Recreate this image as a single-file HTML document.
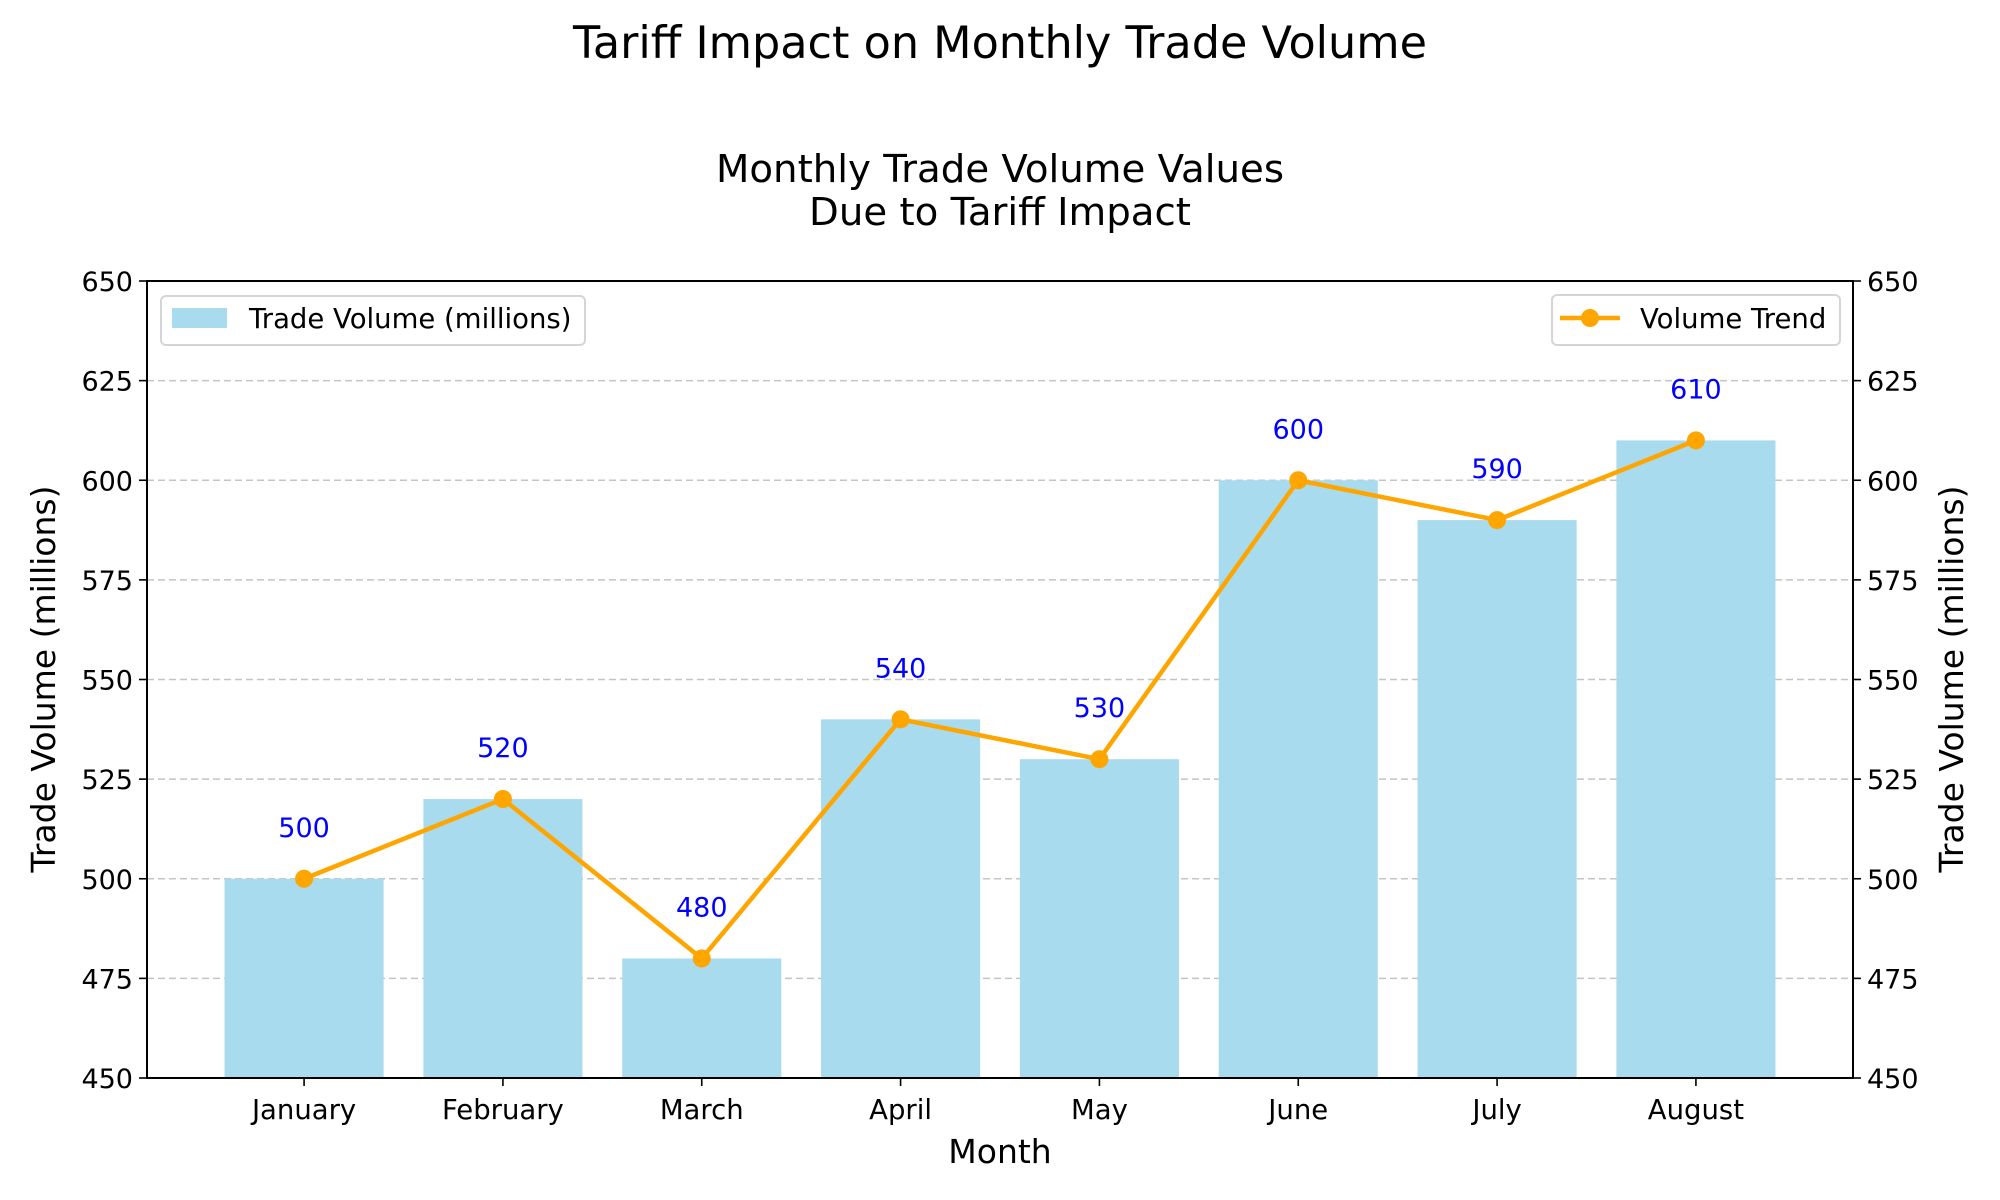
<!DOCTYPE html>
<html><head><meta charset="utf-8"><style>
html,body{margin:0;padding:0;background:#fff;}
svg{display:block;font-family:"DejaVu Sans","Liberation Sans",sans-serif;}
</style></head><body>
<svg id="chart" width="2000" height="1200" viewBox="0 0 2000 1200" xmlns="http://www.w3.org/2000/svg">
<text x="1000" y="58" font-size="44.5" text-anchor="middle">Tariff Impact on Monthly Trade Volume</text>
<text x="1000" y="182" font-size="38.7" text-anchor="middle">Monthly Trade Volume Values</text>
<text x="1000" y="225" font-size="38.7" text-anchor="middle">Due to Tariff Impact</text>
<g id="grid"></g>
<g id="bars"></g>
<g id="line"></g>
<g id="labels"></g>
<g id="axes"></g>
<text x="0" y="0" font-size="33" text-anchor="middle" transform="translate(55,679) rotate(-90)">Trade Volume (millions)</text>
<text x="0" y="0" font-size="33" text-anchor="middle" transform="translate(1963,679) rotate(-90)">Trade Volume (millions)</text>
<text x="1000" y="1163" font-size="33" text-anchor="middle">Month</text>
<g>
<rect x="161" y="296" width="424" height="49" rx="5" fill="#fff" fill-opacity="0.8" stroke="#d5d5d5" stroke-width="2"/>
<rect x="172" y="308" width="55" height="20" fill="#a8dbee"/>
<text x="249" y="328" font-size="27.5">Trade Volume (millions)</text>
</g>
<g>
<rect x="1552" y="295" width="288" height="50" rx="5" fill="#fff" fill-opacity="0.8" stroke="#d5d5d5" stroke-width="2"/>
<line x1="1560" y1="318" x2="1620" y2="318" stroke="#FFA500" stroke-width="4.5"/>
<circle cx="1590" cy="318" r="9" fill="#FFA500"/>
<text x="1640" y="328" font-size="27.5">Volume Trend</text>
</g>
</svg>
<script>
const months = ["January","February","March","April","May","June","July","August"];
const volumes = [500,520,480,540,530,600,590,610];
const yTicks = [450,475,500,525,550,575,600,625,650];
const NS="http://www.w3.org/2000/svg";
const L=147,R=1853,T=281,B=1078;
const yMin=450,yMax=650,xMin=-0.79,xMax=7.79;
function xs(i){return L+(i-xMin)/(xMax-xMin)*(R-L);}
function ys(v){return B-(v-yMin)/(yMax-yMin)*(B-T);}
function mk(tag,attrs,parent,text){const e=document.createElementNS(NS,tag);for(const k in attrs)e.setAttribute(k,attrs[k]);if(text!==undefined)e.textContent=text;document.getElementById(parent).appendChild(e);return e;}
yTicks.forEach(function(t){
  if(t>yMin&&t<yMax){
    const g=mk('line',{x1:L,x2:R,y1:ys(t),y2:ys(t),stroke:'#c4c4c4','stroke-width':1.6,'stroke-dasharray':'7,4'},'grid');
    
    
  }
});
const bw=0.8;
months.forEach(function(m,i){
  const x0=xs(i-bw/2),x1=xs(i+bw/2);
  const b=mk('rect',{x:x0,y:ys(volumes[i]),width:x1-x0,height:B-ys(volumes[i]),fill:'#a8dbee'},'bars');
  
  
  const lb=mk('text',{x:xs(i),y:ys(volumes[i])-42,'font-size':27,'text-anchor':'middle',fill:'#0000ff'},'labels',String(volumes[i]));
  
  
  const tk=mk('line',{x1:xs(i),x2:xs(i),y1:B,y2:B+8,stroke:'#000','stroke-width':1.6},'axes');
  
  
  const tl=mk('text',{x:xs(i),y:B+41,'font-size':27.5,'text-anchor':'middle'},'axes',m);
  
  
});
const pts=volumes.map(function(v,i){return xs(i)+','+ys(v);}).join(' ');
const pl=mk('polyline',{points:pts,fill:'none',stroke:'#FFA500','stroke-width':4.5,'stroke-linejoin':'round'},'line');


volumes.forEach(function(v,i){
  const c=mk('circle',{cx:xs(i),cy:ys(v),r:9,fill:'#FFA500'},'line');
  
  
});
const fr=mk('rect',{x:L,y:T,width:R-L,height:B-T,fill:'none',stroke:'#000','stroke-width':2},'axes');


yTicks.forEach(function(t){
  const a=mk('line',{x1:L-8,x2:L,y1:ys(t),y2:ys(t),stroke:'#000','stroke-width':1.6},'axes');
  
  
  const b=mk('line',{x1:R,x2:R+8,y1:ys(t),y2:ys(t),stroke:'#000','stroke-width':1.6},'axes');
  
  
  const tl=mk('text',{x:L-14,y:ys(t)+10,'font-size':27,'text-anchor':'end'},'axes',String(t));
  
  
  const tr=mk('text',{x:R+14,y:ys(t)+10,'font-size':27,'text-anchor':'start'},'axes',String(t));
  
  
});
</script>
</body></html>
